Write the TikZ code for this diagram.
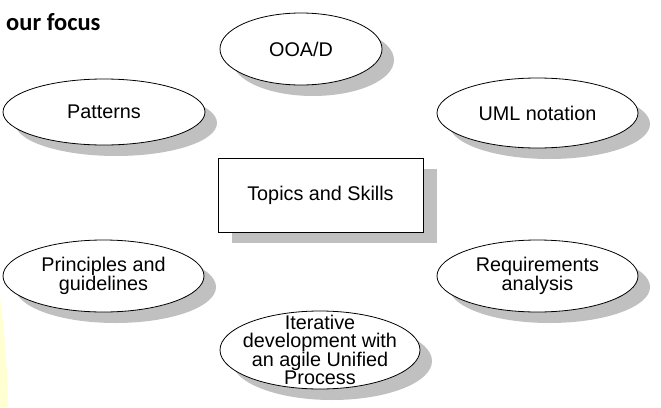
\documentclass[tikz,border=0pt]{standalone}
\usepackage{fontspec}
\setmainfont{Liberation Sans}
\newfontfamily\titlefont{Carlito}
\usetikzlibrary{shapes.geometric,shadows}
\definecolor{shadowgray}{RGB}{192,192,192}
\definecolor{paleyellow}{RGB}{255,255,210}
\tikzset{
  topic/.style={ellipse,draw,fill=white,line width=0.8pt,inner sep=0pt,align=center,
    font=\fontsize{19.8}{18}\selectfont,
    drop shadow={shadow xshift=12pt,shadow yshift=-11pt,fill=shadowgray,opacity=1}},
  hub/.style={rectangle,draw,fill=white,line width=0.8pt,minimum width=205pt,minimum height=74pt,
    font=\fontsize{19.8}{18}\selectfont,
    drop shadow={shadow xshift=14pt,shadow yshift=-11pt,fill=shadowgray,opacity=1}}
}
\begin{document}
\begin{tikzpicture}[x=1pt,y=-1pt]
\useasboundingbox (0,0) rectangle (661,407);
\fill[paleyellow] (0,298) .. controls (5,330) and (7,370) .. (8,407) -- (0,407) -- cycle;
\node[anchor=base west,inner sep=0pt,font=\titlefont\bfseries\fontsize{24.5}{26}\selectfont] (title) at (6,30) {our focus};
\node[hub] (skills) at (320.5,195) {Topics and Skills};
\node[topic,minimum width=162pt,minimum height=72pt] (ooad) at (301,49) {OOA/D};
\node[topic,minimum width=202pt,minimum height=66pt] (patterns) at (104,112) {Patterns};
\node[topic,minimum width=201pt,minimum height=70pt] (uml) at (537.5,113) {UML notation};
\node[topic,minimum width=201pt,minimum height=72pt] (principles) at (103.5,276) {Principles and\\guidelines};
\node[topic,minimum width=201pt,minimum height=72pt] (requirements) at (537.5,276) {Requirements\\analysis};
% text runs past the ellipse, as in the slide
\node[topic,inner sep=-9pt,minimum width=200pt,minimum height=78pt] (iterative) at (320,350) {Iterative\\development with\\an agile Unified\\Process};
\end{tikzpicture}
\end{document}
